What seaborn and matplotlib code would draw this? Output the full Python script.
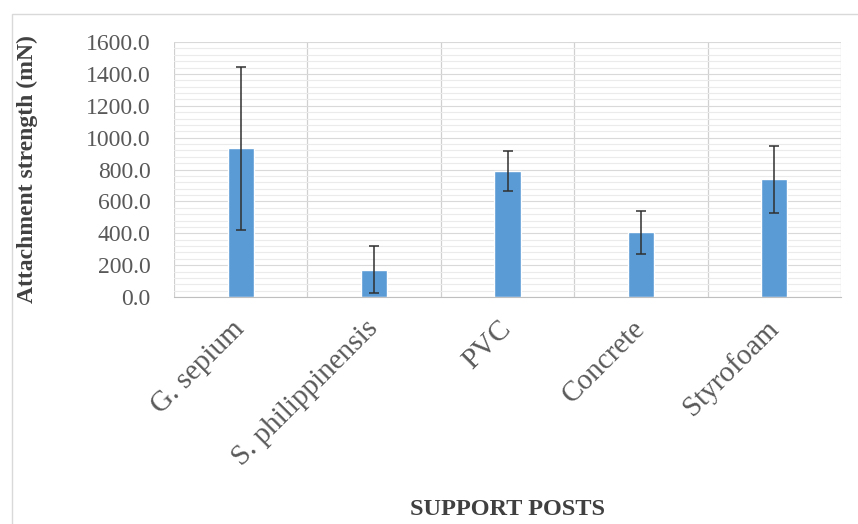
import matplotlib
matplotlib.use("Agg")
import matplotlib.pyplot as plt
import seaborn as sns
import numpy as np
from matplotlib.ticker import MultipleLocator
from matplotlib.patches import Rectangle

posts = ["G. sepium", "S. philippinensis", "PVC", "Concrete", "Styrofoam"]
strength = [933.0, 172.0, 790.0, 405.0, 738.0]
strength_sd = [513.0, 145.0, 126.0, 135.0, 212.0]
yticks = [0, 200, 400, 600, 800, 1000, 1200, 1400, 1600]

sns.set_style("white")
plt.rcParams['font.family'] = ['Liberation Serif', 'DejaVu Serif']

fig = plt.figure(figsize=(8.58, 5.24), dpi=100)
ax = fig.add_axes([174/858, 1-297/524, 667/858, 255/524])

sns.barplot(x=posts, y=strength, color='#5B9BD5', saturation=1, width=0.195, ax=ax)
ax.errorbar(range(len(posts)), strength, yerr=strength_sd, fmt='none',
            ecolor='#303030', elinewidth=1.1, capsize=3.6, capthick=1.1, zorder=5)

ax.set_xlim(-0.5, len(posts)-0.5)
ax.set_ylim(0, 1600)
ax.set_yticks(yticks)
ax.set_yticklabels([f"{v:.1f}" for v in yticks])
ax.yaxis.set_minor_locator(MultipleLocator(40))
ax.set_xticks(np.arange(-0.5, len(posts), 1), minor=True)

ax.set_axisbelow(True)
ax.yaxis.grid(True, which='major', color='#d9d9d9', lw=0.8)
ax.yaxis.grid(True, which='minor', color='#ebebeb', lw=0.8)
ax.xaxis.grid(True, which='minor', color='#d0d0d0', lw=0.9)

for s in ['top', 'right', 'left']:
    ax.spines[s].set_visible(False)
ax.spines['bottom'].set_color('#bfbfbf')

ax.tick_params(axis='y', which='major', length=5, color='#bfbfbf', labelsize=17,
               labelcolor='#595959', pad=12)
ax.tick_params(axis='y', which='minor', length=0)
ax.tick_params(axis='x', which='both', length=0)
ax.tick_params(axis='x', which='major', labelsize=21, labelcolor='#595959', pad=20)
for lbl in ax.get_xticklabels():
    lbl.set_rotation(45)
    lbl.set_ha('right')
    lbl.set_va('center')
    lbl.set_rotation_mode('anchor')

ax.set_ylabel("Attachment strength (mN)", fontsize=17, fontweight='bold', color='#404040')
ax.yaxis.set_label_coords(-0.204, 0.5)
ax.set_xlabel("SUPPORT POSTS", fontsize=17.5, fontweight='bold', color='#404040')
ax.xaxis.set_label_coords(0.5, -0.792)

fig.patches.append(Rectangle((12/858, -0.1), 2, 1-14/524+0.1, transform=fig.transFigure,
                             fill=False, ec='#d9d9d9', lw=1))

fig.savefig("out.png", dpi=100)
